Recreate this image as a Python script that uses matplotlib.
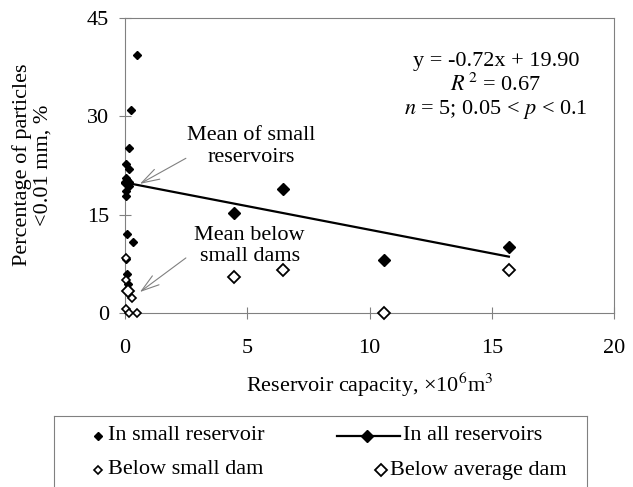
import numpy as np
import matplotlib
matplotlib.use("Agg")
import matplotlib.pyplot as plt

plt.rcParams['font.family'] = ['Liberation Serif', 'DejaVu Serif']
plt.rcParams['mathtext.fontset'] = 'stix'
plt.rcParams['font.size'] = 16

# small reservoirs (capacity x10^6 m3, % particles <0.01 mm)
small_res_x = [0.5, 0.25, 0.18, 0.04, 0.16, 0.05, 0.1, 0.02, 0.15, 0.05, 0.03, 0.07, 0.31, 0.05, 0.1, 0.12]
small_res_y = [39.4, 31.0, 25.1, 22.8, 21.9, 20.6, 20.3, 19.8, 19.3, 18.6, 17.9, 12.1, 10.8, 8.3, 6.0, 4.4]

# below small dams
small_dam_x = [0.05, 0.03, 0.3, 0.03, 0.15, 0.48]
small_dam_y = [8.4, 5.0, 2.3, 0.6, 0.0, 0.0]

# all reservoirs (first one = mean of small reservoirs)
all_res_x = [0.1, 4.46, 6.46, 10.6, 15.7]
all_res_y = [20.0, 15.3, 18.9, 8.1, 10.1]

# below average dams (first one = mean below small dams)
avg_dam_x = [0.14, 4.46, 6.46, 10.6, 15.7]
avg_dam_y = [3.4, 5.5, 6.6, 0.0, 6.6]

slope = -0.72
intercept = 19.90

GRAY = '#808080'
ARROW = dict(arrowstyle='->,head_length=0.8,head_width=0.25', color=GRAY, lw=0.8,
             shrinkA=0, shrinkB=0)

fig = plt.figure(figsize=(6.33, 4.87), dpi=100)
ax = fig.add_axes([125/633, 1 - 313/487, 489/633, 295/487])

ax.plot(small_res_x, small_res_y, 'D', color='black', ms=3.8, zorder=3, clip_on=False)
ax.plot(small_dam_x, small_dam_y, 'D', mfc='white', mec='black', mew=1.2, ms=3.8,
        zorder=3, clip_on=False)

fit_x = np.array([min(all_res_x), max(all_res_x)])
ax.plot(fit_x, slope * fit_x + intercept, color='black', lw=1.6, zorder=2)
ax.plot(all_res_x, all_res_y, 'D', color='black', ms=6.5, zorder=4, clip_on=False)
ax.plot(avg_dam_x, avg_dam_y, 'D', mfc='white', mec='black', mew=1.3, ms=6.5,
        zorder=4, clip_on=False)

ax.set_xlim(0, 20)
ax.set_ylim(0, 45)
ax.set_xticks([0, 5, 10, 15, 20])
ax.set_yticks([0, 15, 30, 45])
for s in ax.spines.values():
    s.set_color(GRAY)
ax.tick_params(axis='both', direction='inout', length=9, color=GRAY, labelsize=16)
ax.tick_params(axis='x', pad=14.5)
ax.tick_params(axis='y', pad=6.8)

ax.set_xlabel('Reservoir capacity, ×10$^6$m$^3$', fontsize=16, labelpad=9)
fig.text(32/633, 1 - 165/487, 'Percentage of particles\n<0.01 mm, %', rotation=90,
         ha='center', va='center', fontsize=16, linespacing=1.1)

ax.text(5.15, 25.4, 'Mean of small\nreservoirs', ha='center', va='center',
        fontsize=16, linespacing=1.15)
ax.annotate('', xy=(0.61, 19.7), xytext=(2.49, 23.6), arrowprops=ARROW)
ax.text(5.1, 10.2, 'Mean below\nsmall dams', ha='center', va='center',
        fontsize=16, linespacing=1.15)
ax.annotate('', xy=(0.61, 3.2), xytext=(2.49, 8.4), arrowprops=ARROW)

ax.text(15.17, 34.5, 'y = -0.72x + 19.90\n$R^{\\,2}$ = 0.67\n$n$ = 5; 0.05 < $p$ < 0.1',
        ha='center', va='center', fontsize=16, linespacing=1.15)

# legend drawn by hand, frame cut by bottom edge
lax = fig.add_axes([54/633, -12/487, 533/633, 83/487])
lax.set_xlim(54, 587)
lax.set_ylim(499, 416)
lax.set_xticks([])
lax.set_yticks([])
for s in lax.spines.values():
    s.set_color(GRAY)
lax.plot([98], [436], 'D', color='black', ms=3.8)
lax.text(108, 436, 'In small reservoir', va='center', fontsize=16)
lax.plot([337, 400], [436, 436], color='black', lw=1.6)
lax.plot([367], [436], 'D', color='black', ms=6)
lax.text(403, 436, 'In all reservoirs', va='center', fontsize=16)
lax.plot([98], [470], 'D', mfc='white', mec='black', mew=1.2, ms=3.8)
lax.text(108, 470, 'Below small dam', va='center', fontsize=16)
lax.plot([381], [470], 'D', mfc='white', mec='black', mew=1.3, ms=6)
lax.text(390, 470, 'Below average dam', va='center', fontsize=16)

fig.savefig('out.png', dpi=100)
